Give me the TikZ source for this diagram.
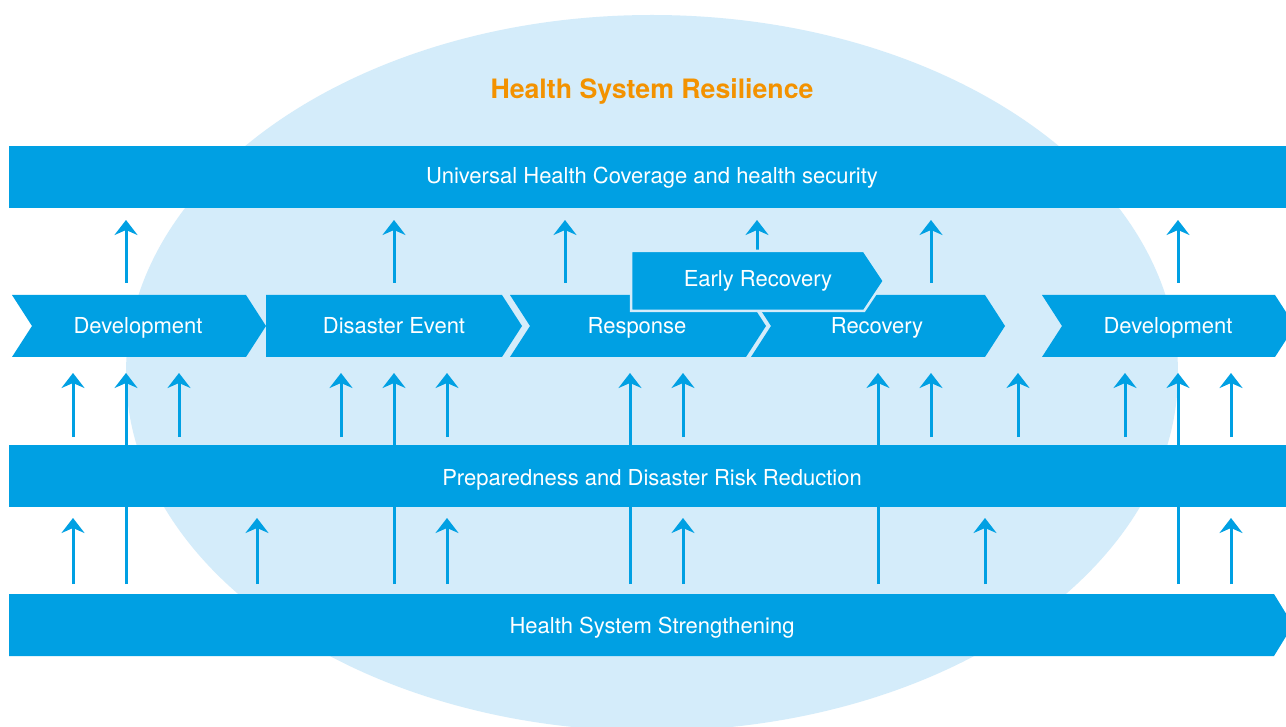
\documentclass[tikz,border=0pt]{standalone}
\usepackage{fontspec}
\setmainfont{TeX Gyre Heros}
\usetikzlibrary{arrows.meta}
\definecolor{hsblue}{RGB}{0,160,227}
\definecolor{hslight}{RGB}{212,236,250}
\definecolor{hsorange}{RGB}{243,146,0}
\tikzset{
  band/.style={fill=hsblue},
  bandtext/.style={text=white,anchor=base,font=\fontsize{22}{26}\selectfont},
  uparrow/.style={draw=hsblue,line width=3pt,-{Stealth[length=15pt,width=23pt,inset=5pt]}},
}
\begin{document}
\begin{tikzpicture}[x=1pt,y=-1pt]
  \useasboundingbox (0,0) rectangle (1286,727);
  \clip (0,0) rectangle (1286,727);
  \fill[white] (0,0) rectangle (1286,727);
  \fill[hslight] (652,373) ellipse [x radius=526,y radius=358];
  \node[text=hsorange,anchor=base,font=\fontsize{26.7}{31}\selectfont\bfseries] (title) at (652,99) {Health System Resilience};
  \foreach \x in {126,394,565,931,1178}
    \draw[uparrow] (\x,283) -- (\x,220);
  \draw[uparrow] (757,251) -- (757,220);
  \foreach \x in {73,179,341,447,683,931,1018,1125,1231}
    \draw[uparrow] (\x,437) -- (\x,373);
  \foreach \x in {126,394,630,878,1178}
    \draw[uparrow] (\x,584) -- (\x,373);
  \foreach \x in {73,257,447,683,985,1231}
    \draw[uparrow] (\x,584) -- (\x,518);
  \fill[band] (9,146) rectangle (1300,208);
  \node[bandtext] (uhc) at (652,184) {Universal Health Coverage and health security};
  \fill[band] (12,295) -- (246,295) -- (266,326) -- (246,357) -- (12,357) -- (32,326) -- cycle;
  \fill[band] (266,295) -- (502,295) -- (522,326) -- (502,357) -- (266,357) -- cycle;
  \fill[band] (510,295) -- (746,295) -- (766,326) -- (746,357) -- (510,357) -- (530,326) -- cycle;
  \fill[band] (751,295) -- (985,295) -- (1005,326) -- (985,357) -- (751,357) -- (771,326) -- cycle;
  \fill[band] (1042,295) -- (1275,295) -- (1295,326) -- (1275,357) -- (1042,357) -- (1062,326) -- cycle;
  \filldraw[band,draw=hslight,line width=2.5pt] (631,251) -- (864,251) -- (884,281) -- (864,311) -- (631,311) -- cycle;
  \node[bandtext] (dev1) at (138,334) {Development};
  \node[bandtext] (disaster) at (394,334) {Disaster Event};
  \node[bandtext] (response) at (637,334) {Response};
  \node[bandtext] (recovery) at (877,334) {Recovery};
  \node[bandtext] (dev2) at (1168,334) {Development};
  \node[bandtext] (early) at (758,287) {Early Recovery};
  \fill[band] (9,445) rectangle (1300,507);
  \node[bandtext] (prep) at (652,485) {Preparedness and Disaster Risk Reduction};
  \fill[band] (9,594) -- (1274,594) -- (1293,625) -- (1274,656) -- (9,656) -- cycle;
  \node[bandtext] (hss) at (652,633) {Health System Strengthening};
\end{tikzpicture}
\end{document}
